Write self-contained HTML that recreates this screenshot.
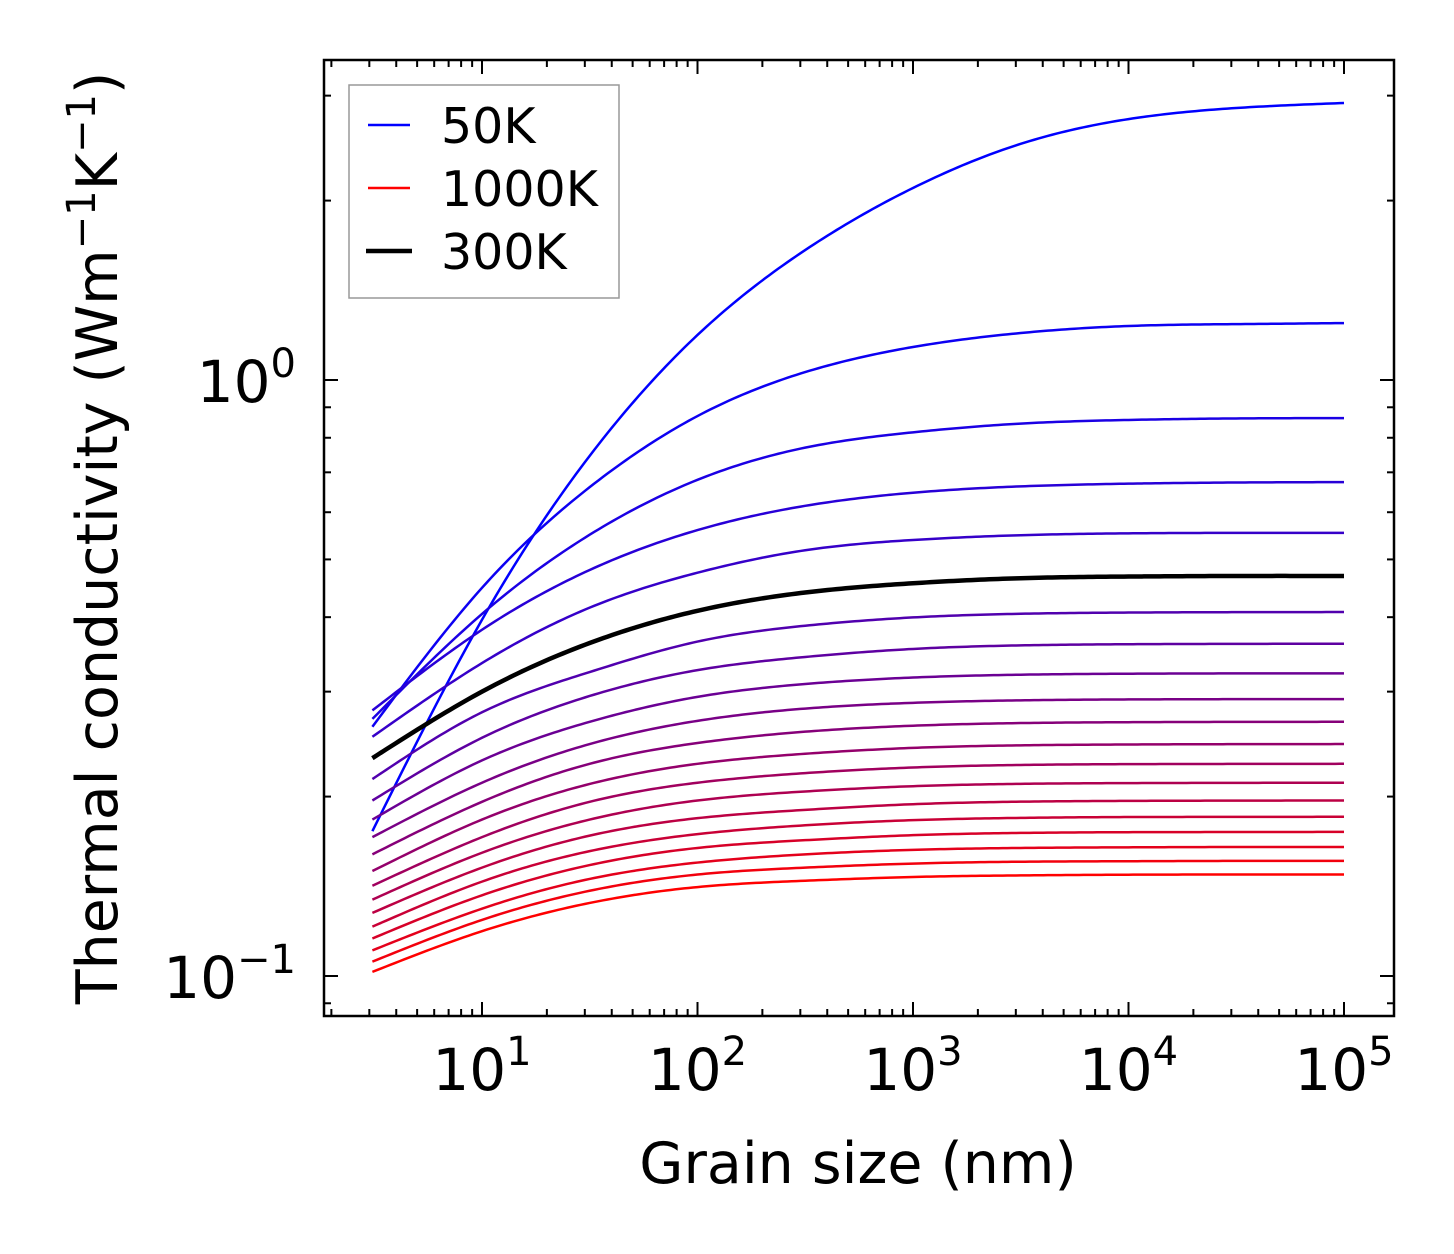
<!DOCTYPE html>
<html><head><meta charset="utf-8"><style>
html,body{margin:0;padding:0;background:#fff;}
svg{display:block;font-family:"DejaVu Sans","Liberation Sans",sans-serif;}
</style></head><body>
<svg id="chart" width="1454" height="1254" viewBox="0 0 1454 1254" xmlns="http://www.w3.org/2000/svg">
<rect x="0" y="0" width="1454" height="1254" fill="#fff"/>
<g id="curves"></g>
<g id="ticks"></g>
<rect x="324" y="60" width="1070" height="956" fill="none" stroke="#000" stroke-width="2.5"/>
<g id="labels"></g>
<text x="858" y="1183" font-size="57" text-anchor="middle">Grain size (nm)</text>
<text transform="translate(117,538) rotate(-90)" font-size="57" text-anchor="middle">Thermal conductivity (Wm<tspan dy="-22" font-size="40">−1</tspan><tspan dy="22">K</tspan><tspan dy="-22" font-size="40">−1</tspan><tspan dy="22">)</tspan></text>
<g>
<rect x="349" y="85" width="270" height="213" fill="#fff" stroke="#999" stroke-width="1.5"/>
<line x1="368" y1="125" x2="410" y2="125" stroke="#0000ff" stroke-width="2.5"/>
<text x="441" y="143" font-size="49">50K</text>
<line x1="368" y1="188" x2="410" y2="188" stroke="#ff0000" stroke-width="2.5"/>
<text x="441" y="206" font-size="49">1000K</text>
<line x1="366" y1="251" x2="412" y2="251" stroke="#000" stroke-width="4.5"/>
<text x="441" y="269" font-size="49">300K</text>
</g>
</svg>
<script>
const grainSizes = [3.1, 10, 31.6, 100, 316, 1000, 3160, 10000, 31600, 100000];
const temperatures = [50,100,150,200,250,300,350,400,450,500,550,600,650,700,750,800,850,900,950,1000];
const k50 = [0.175,0.396,0.746,1.190,1.652,2.100,2.490,2.740,2.860,2.916];
const k100 = [0.262,0.448,0.661,0.870,1.031,1.136,1.199,1.232,1.241,1.246];
const k150 = [0.270,0.405,0.550,0.680,0.770,0.817,0.845,0.857,0.862,0.863];
const k200 = [0.279,0.381,0.480,0.560,0.615,0.647,0.663,0.670,0.673,0.674];
const k250 = [0.252,0.335,0.415,0.475,0.518,0.539,0.549,0.553,0.554,0.554];
const k300 = [0.232,0.300,0.362,0.410,0.440,0.456,0.465,0.468,0.469,0.469];
const k350 = [0.214,0.277,0.3236,0.364,0.387,0.3996,0.4053,0.4072,0.4078,0.408];
const k400 = [0.197,0.251,0.295,0.326,0.343,0.3538,0.3587,0.3603,0.3608,0.361];
const k450 = [0.183,0.230,0.267,0.294,0.309,0.3168,0.3203,0.3215,0.3219,0.322];
const k500 = [0.171,0.211,0.245,0.268,0.281,0.2873,0.2901,0.2911,0.2914,0.2915];
const k550 = [0.160,0.196,0.227,0.246,0.257,0.263,0.2657,0.2666,0.2669,0.267];
const k600 = [0.150,0.183,0.210,0.227,0.236,0.2414,0.2438,0.2446,0.2449,0.245];
const k650 = [0.1417,0.171,0.196,0.211,0.219,0.2238,0.226,0.2267,0.2269,0.227];
const k700 = [0.1343,0.161,0.183,0.197,0.204,0.2082,0.2101,0.2107,0.2109,0.211];
const k750 = [0.1276,0.152,0.172,0.184,0.190,0.1942,0.1961,0.1967,0.1969,0.197];
const k800 = [0.121,0.144,0.162,0.173,0.179,0.1826,0.1842,0.1848,0.1849,0.185];
const k850 = [0.1156,0.1366,0.1535,0.164,0.169,0.1723,0.1738,0.1743,0.1744,0.1745];
const k900 = [0.1104,0.1297,0.1455,0.155,0.160,0.1628,0.1640,0.1644,0.1646,0.1646];
const k950 = [0.1057,0.1242,0.139,0.148,0.152,0.1544,0.1555,0.1558,0.156,0.156];
const k1000 = [0.1016,0.1189,0.1326,0.141,0.1445,0.1466,0.1475,0.1479,0.148,0.148];
const seriesList = [k50,k100,k150,k200,k250,k300,k350,k400,k450,k500,k550,k600,k650,k700,k750,k800,k850,k900,k950,k1000];
const xTickLabels = ["1","2","3","4","5"];
const yTickLabels = ["−1","0"];

const NS = "http://www.w3.org/2000/svg";
const X0=324,X1=1394,Y0=60,Y1=1016;
function xScale(v){return 482 + (Math.log10(v)-1)*215.5;}
function yScale(v){return 380 - Math.log10(v)*596;}

function splinePath(xs, ys){
  const n=xs.length, h=[], al=[], l=[1], mu=[0], z=[0], c=new Array(n).fill(0), b=[], d=[];
  for(let i=0;i<n-1;i++) h.push(xs[i+1]-xs[i]);
  for(let i=1;i<n-1;i++) al[i]=3/h[i]*(ys[i+1]-ys[i])-3/h[i-1]*(ys[i]-ys[i-1]);
  for(let i=1;i<n-1;i++){
    l[i]=2*(xs[i+1]-xs[i-1])-h[i-1]*mu[i-1];
    mu[i]=h[i]/l[i];
    z[i]=(al[i]-h[i-1]*z[i-1])/l[i];
  }
  l[n-1]=1; z[n-1]=0; c[n-1]=0;
  for(let j=n-2;j>=0;j--){
    c[j]=z[j]-mu[j]*c[j+1];
    b[j]=(ys[j+1]-ys[j])/h[j]-h[j]*(c[j+1]+2*c[j])/3;
    d[j]=(c[j+1]-c[j])/(3*h[j]);
  }
  let p="M"+xs[0].toFixed(2)+","+ys[0].toFixed(2);
  for(let i=0;i<n-1;i++){
    const steps=24;
    for(let s=1;s<=steps;s++){
      const dx=h[i]*s/steps;
      const y=ys[i]+b[i]*dx+c[i]*dx*dx+d[i]*dx*dx*dx;
      p+=" L"+(xs[i]+dx).toFixed(2)+","+y.toFixed(2);
    }
  }
  return p;
}

const cg=document.getElementById("curves");
const px=grainSizes.map(xScale);
let blackPath=null;
seriesList.forEach((s,i)=>{
  const t=i/(seriesList.length-1);
  const path=document.createElementNS(NS,"path");
  path.setAttribute("d",splinePath(px,s.map(yScale)));
  path.setAttribute("fill","none");
  path.setAttribute("stroke-linejoin","round");
  
  
  if(temperatures[i]===300){
    path.setAttribute("stroke","#000");
    path.setAttribute("stroke-width","4.5");
    blackPath=path;
  } else {
    path.setAttribute("stroke","rgb("+Math.round(255*t)+",0,"+Math.round(255*(1-t))+")");
    path.setAttribute("stroke-width","2.5");
    cg.appendChild(path);
  }
});
if(blackPath) cg.appendChild(blackPath);

const tg=document.getElementById("ticks");
function tick(x1,y1,x2,y2,w,name){
  const l=document.createElementNS(NS,"line");
  l.setAttribute("x1",x1);l.setAttribute("y1",y1);l.setAttribute("x2",x2);l.setAttribute("y2",y2);
  l.setAttribute("stroke","#000");l.setAttribute("stroke-width",w);
  
  
  tg.appendChild(l);
}
for(let e=0;e<=5;e++){
  for(let m=1;m<10;m++){
    const v=m*Math.pow(10,e); const x=xScale(v);
    if(x<X0+2||x>X1-2) continue;
    const L=(m===1)?14:7;
    tick(x,Y1,x,Y1-L,2,"x-tick");
    tick(x,Y0,x,Y0+L,2,"x-tick-top");
  }
}
for(let e=-2;e<=0;e++){
  for(let m=1;m<10;m++){
    const v=m*Math.pow(10,e); const y=yScale(v);
    if(y<Y0+2||y>Y1-2) continue;
    const L=(m===1)?14:7;
    tick(X0,y,X0+L,y,2,"y-tick");
    tick(X1,y,X1-L,y,2,"y-tick-right");
  }
}
const lg=document.getElementById("labels");
xTickLabels.forEach((s,i)=>{
  const x=xScale(Math.pow(10,i+1));
  const t=document.createElementNS(NS,"text");
  t.setAttribute("x",x);t.setAttribute("y",1090);
  t.setAttribute("font-size","58");t.setAttribute("text-anchor","middle");
  
  
  t.innerHTML='10<tspan dy="-25" font-size="40">'+s+'</tspan>';
  lg.appendChild(t);
});
yTickLabels.forEach((s,i)=>{
  const y=yScale(Math.pow(10,i-1));
  const t=document.createElementNS(NS,"text");
  t.setAttribute("x",296);t.setAttribute("y",y+22);
  t.setAttribute("font-size","58");t.setAttribute("text-anchor","end");
  
  
  t.innerHTML='10<tspan dy="-25" font-size="40">'+s+'</tspan>';
  lg.appendChild(t);
});
</script>
</body></html>
